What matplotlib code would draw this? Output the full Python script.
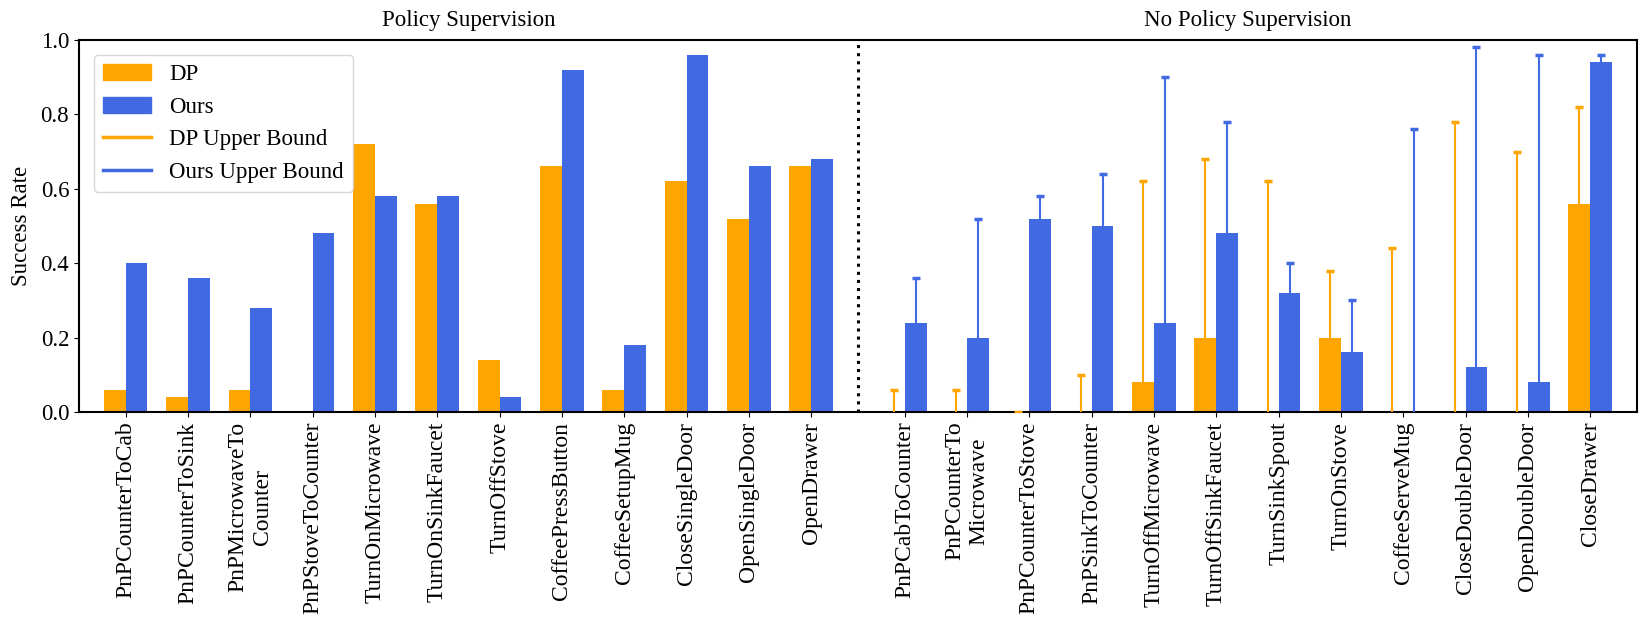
import numpy as np
import matplotlib
import matplotlib.pyplot as plt
from matplotlib.lines import Line2D
from matplotlib.patches import Patch

matplotlib.rcParams['font.family'] = 'Liberation Serif'
text_size = 16.5

# policy supervision tasks
sup_tasks = ["PnPCounterToCab", "PnPCounterToSink", "PnPMicrowaveTo\nCounter",
             "PnPStoveToCounter", "TurnOnMicrowave", "TurnOnSinkFaucet",
             "TurnOffStove", "CoffeePressButton", "CoffeeSetupMug",
             "CloseSingleDoor", "OpenSingleDoor", "OpenDrawer"]
sup_dp = [0.06, 0.04, 0.06, 0.0, 0.72, 0.56, 0.14, 0.66, 0.06, 0.62, 0.52, 0.66]
sup_ours = [0.40, 0.36, 0.28, 0.48, 0.58, 0.58, 0.04, 0.92, 0.18, 0.96, 0.66, 0.68]

# no policy supervision tasks
nosup_tasks = ["PnPCabToCounter", "PnPCounterTo\nMicrowave", "PnPCounterToStove",
               "PnPSinkToCounter", "TurnOffMicrowave", "TurnOffSinkFaucet",
               "TurnSinkSpout", "TurnOnStove", "CoffeeServeMug",
               "CloseDoubleDoor", "OpenDoubleDoor", "CloseDrawer"]
nosup_dp = [0.0, 0.0, 0.0, 0.0, 0.08, 0.20, 0.0, 0.20, 0.0, 0.0, 0.0, 0.56]
nosup_dp_ub = [0.06, 0.06, 0.0, 0.10, 0.62, 0.68, 0.62, 0.38, 0.44, 0.78, 0.70, 0.82]
nosup_ours = [0.24, 0.20, 0.52, 0.50, 0.24, 0.48, 0.32, 0.16, 0.0, 0.12, 0.08, 0.94]
nosup_ours_ub = [0.36, 0.52, 0.58, 0.64, 0.90, 0.78, 0.40, 0.30, 0.76, 0.98, 0.96, 0.96]

c_dp = "orange"
c_ours = "royalblue"
w = 0.35

x_sup = np.arange(len(sup_tasks))
x_nosup = np.arange(len(nosup_tasks)) + len(sup_tasks) + 0.5

fig = plt.figure(figsize=(16.48, 6.17), dpi=100)
ax = fig.add_axes([0.0479, 0.3323, 0.9454, 0.6029])

ax.bar(x_sup - w/2, sup_dp, w, color=c_dp, zorder=2)
ax.bar(x_sup + w/2, sup_ours, w, color=c_ours, zorder=2)

nosup_dp = np.array(nosup_dp)
nosup_ours = np.array(nosup_ours)
ax.bar(x_nosup - w/2, nosup_dp, w, color=c_dp, zorder=2)
ax.bar(x_nosup + w/2, nosup_ours, w, color=c_ours, zorder=2)

# upper bounds only: hide the lower caps
for xs, ys, ub, c in [(x_nosup - w/2, nosup_dp, nosup_dp_ub, c_dp),
                      (x_nosup + w/2, nosup_ours, nosup_ours_ub, c_ours)]:
    eb = ax.errorbar(xs, ys, yerr=[np.zeros(len(ys)), np.array(ub) - ys],
                     fmt='none', ecolor=c, elinewidth=1.5, capsize=3,
                     capthick=2.5, zorder=3)
    eb[1][0].set_visible(False)

sep = len(sup_tasks) - 0.25
ax.axvline(sep, color='black', linestyle=':', lw=2.2)

ax.set_xlim(-0.75, x_nosup[-1] + 0.75)
ax.set_ylim(0, 1.0)
ax.set_xticks(np.concatenate([x_sup, x_nosup]))
ax.set_xticklabels(sup_tasks + nosup_tasks, rotation=90, fontsize=17,
                   multialignment='center')
ax.set_yticks(np.arange(0, 1.01, 0.2))
ax.set_yticklabels(["%.1f" % v for v in np.arange(0, 1.01, 0.2)], fontsize=text_size)
ax.set_ylabel("Success Rate", fontsize=text_size, labelpad=6)
for s in ax.spines.values():
    s.set_linewidth(1.5)

trans = ax.get_xaxis_transform()
ax.text(np.mean(x_sup), 1.025, "Policy Supervision", transform=trans,
        ha='center', va='bottom', fontsize=text_size)
ax.text(np.mean(x_nosup), 1.025, "No Policy Supervision", transform=trans,
        ha='center', va='bottom', fontsize=text_size)

handles = [Patch(color=c_dp, label="DP"),
           Patch(color=c_ours, label="Ours"),
           Line2D([0], [0], color=c_dp, lw=2.5, label="DP Upper Bound"),
           Line2D([0], [0], color=c_ours, lw=2.5, label="Ours Upper Bound")]
ax.legend(handles=handles, loc="upper left", prop={'size': text_size},
          handlelength=2.1, labelspacing=0.5, borderaxespad=0.65)

plt.savefig("out.png", dpi=100)
